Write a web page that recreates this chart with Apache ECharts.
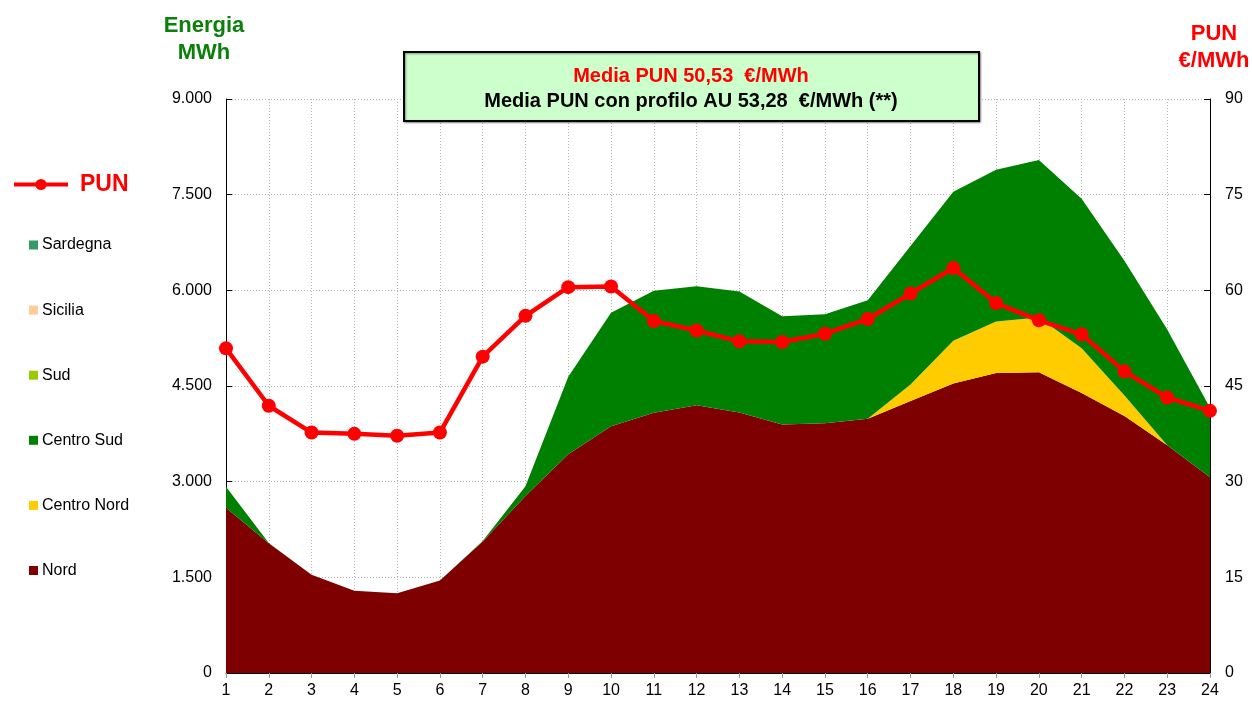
<!DOCTYPE html>
<html>
<head>
<meta charset="utf-8">
<script src="https://cdn.jsdelivr.net/npm/echarts@6/dist/echarts.min.js"></script>
<style>
  html, body { margin: 0; padding: 0; background: #fff; }
  #chart { width: 1252px; height: 705px; }
</style>
</head>
<body>
<div id="chart"></div>
<script>
// ore del giorno
const hours = ['1','2','3','4','5','6','7','8','9','10','11','12','13','14','15','16','17','18','19','20','21','22','23','24'];

// energia per zona (MWh)
const nord       = [2590,2035,1540,1290,1250,1450,2060,2775,3430,3870,4080,4200,4085,3895,3915,3985,4265,4540,4705,4715,4390,4030,3570,3070];
const centroNord = [0,0,0,0,0,0,0,0,0,0,0,0,0,0,0,0,260,670,805,860,700,320,0,0];
const centroSud  = [330,5,0,0,0,0,10,155,1215,1780,1915,1865,1895,1700,1710,1860,2170,2335,2380,2470,2345,2115,1815,1090];
const sud        = [0,0,0,0,0,0,0,0,0,0,0,0,0,0,0,0,0,0,0,0,0,0,0,0];
const sicilia    = [0,0,0,0,0,0,0,0,0,0,0,0,0,0,0,0,0,0,0,0,0,0,0,0];
const sardegna   = [0,0,0,0,0,0,0,0,0,0,0,0,0,0,0,0,0,0,0,0,0,0,0,0];

// prezzo unico nazionale (€/MWh)
const pun = [50.9,41.9,37.7,37.5,37.2,37.7,49.6,56.0,60.5,60.6,55.2,53.7,52.0,51.9,53.2,55.5,59.5,63.5,58.0,55.3,53.1,47.3,43.2,41.1];

const mediaPun = '50,53';
const mediaPunAU = '53,28';

const font = '"Liberation Sans", Arial, sans-serif';

function fmtIt(v) {
    return String(v).replace(/\B(?=(\d{3})+(?!\d))/g, '.');
}

function area(name, data, color) {
    return {
        name: name,
        type: 'line',
        stack: 'zone',
        data: data,
        symbol: 'none',
        lineStyle: { width: 0 },
        areaStyle: { color: color, opacity: 1 },
        itemStyle: { color: color },
        z: 2
    };
}

const chart = echarts.init(document.getElementById('chart'));
const option = {
    animation: false,
    textStyle: { fontFamily: font },
    grid: { left: 226, right: 42, top: 99, bottom: 32 },
    legend: [
        {
            data: ['PUN'],
            left: 12,
            top: 173,
            orient: 'vertical',
            itemWidth: 54,
            itemHeight: 14,
            itemGap: 0,
            padding: 0,
            lineStyle: { width: 4, color: '#ff0000' },
            textStyle: { color: '#ff0000', fontSize: 23, fontWeight: 'bold', fontFamily: font, padding: [0, 0, 0, 7] }
        },
        {
            data: ['Sardegna', 'Sicilia', 'Sud', 'Centro Sud', 'Centro Nord', 'Nord'],
            left: 29,
            top: 236,
            orient: 'vertical',
            icon: 'rect',
            itemWidth: 9,
            itemHeight: 9,
            itemGap: 47.1,
            padding: 0,
            textStyle: { color: '#000', fontSize: 16, lineHeight: 18, fontFamily: font, padding: [0, 0, 0, -1] }
        }
    ],
    xAxis: {
        type: 'category',
        data: hours,
        boundaryGap: false,
        axisLine: { lineStyle: { color: '#000', width: 1 } },
        axisTick: { show: true, length: 5, lineStyle: { color: '#999' } },
        axisLabel: { color: '#000', fontSize: 16, margin: 10 },
        splitLine: { show: true, lineStyle: { color: '#b4b4b4', type: [1, 2], width: 1 } }
    },
    yAxis: [
        {
            type: 'value',
            min: 0,
            max: 9000,
            interval: 1500,
            axisLine: { show: true, lineStyle: { color: '#000', width: 1 } },
            axisTick: { show: true, inside: true, length: 6, lineStyle: { color: '#000' } },
            axisLabel: { color: '#000', fontSize: 16, margin: 14, formatter: fmtIt },
            splitLine: { show: true, lineStyle: { color: '#b4b4b4', type: [1, 2], width: 1 } }
        },
        {
            type: 'value',
            min: 0,
            max: 90,
            interval: 15,
            position: 'right',
            axisLine: { show: true, lineStyle: { color: '#000', width: 1 } },
            axisTick: { show: true, inside: true, length: 6, lineStyle: { color: '#000' } },
            axisLabel: { color: '#000', fontSize: 16, margin: 15 },
            splitLine: { show: false }
        }
    ],
    series: [
        area('Nord', nord, '#7f0000'),
        area('Centro Nord', centroNord, '#ffcc00'),
        area('Centro Sud', centroSud, '#008000'),
        area('Sud', sud, '#99cc00'),
        area('Sicilia', sicilia, '#ffcc99'),
        area('Sardegna', sardegna, '#339966'),
        {
            name: 'PUN',
            type: 'line',
            yAxisIndex: 1,
            data: pun,
            symbol: 'circle',
            symbolSize: 14,
            lineStyle: { color: '#ff0000', width: 4.5 },
            itemStyle: { color: '#ff0000' },
            z: 5
        }
    ],
    graphic: [
        {
            type: 'text',
            x: 204,
            y: 12,
            style: {
                text: 'Energia\nMWh',
                align: 'center',
                font: 'bold 22px ' + font,
                fill: '#0b800b',
                lineHeight: 27
            }
        },
        {
            type: 'text',
            x: 1214,
            y: 20,
            style: {
                text: 'PUN\n€/MWh',
                align: 'center',
                font: 'bold 22px ' + font,
                fill: '#ff0000',
                lineHeight: 27
            }
        },
        {
            type: 'rect',
            shape: { x: 404, y: 52, width: 575, height: 69 },
            style: { fill: '#ccffcc', stroke: '#000', lineWidth: 2, shadowBlur: 2, shadowOffsetX: 1, shadowOffsetY: 1, shadowColor: 'rgba(0,0,0,0.4)' },
            z: 10
        },
        {
            type: 'text',
            x: 691,
            y: 76,
            style: {
                text: 'Media PUN ' + mediaPun + '  €/MWh',
                align: 'center',
                verticalAlign: 'middle',
                font: 'bold 20px ' + font,
                fill: '#ff0000'
            },
            z: 11
        },
        {
            type: 'text',
            x: 691,
            y: 101,
            style: {
                text: 'Media PUN con profilo AU ' + mediaPunAU + '  €/MWh (**)',
                align: 'center',
                verticalAlign: 'middle',
                font: 'bold 20px ' + font,
                fill: '#000'
            },
            z: 11
        }
    ]
};
chart.setOption(option);
</script>
</body>
</html>
